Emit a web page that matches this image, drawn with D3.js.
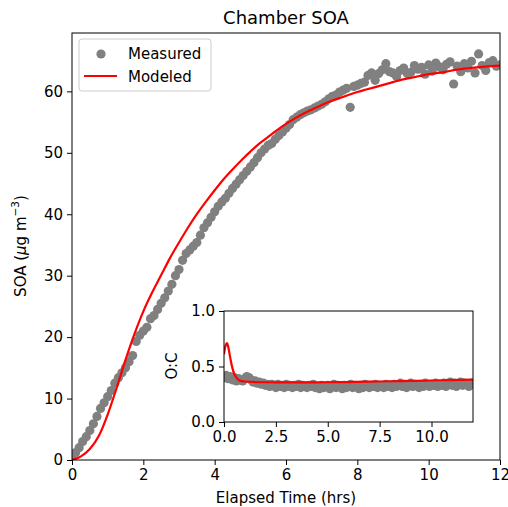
<!DOCTYPE html>
<html>
<head>
<meta charset="utf-8">
<script src="https://cdn.jsdelivr.net/npm/d3@7"></script>
<style>
  body { margin: 0; background: #fff; }
  svg { font-family: "DejaVu Sans", sans-serif; }
</style>
</head>
<body>
<svg id="chart" width="508" height="507"></svg>
<script>
// measured SOA, sampled every 0.1 hr
var measTime = [0.0,0.1,0.2,0.3,0.4,0.5,0.6,0.7,0.8,0.9,1.0,1.1,1.2,1.3,1.4,1.5,1.6,1.7,1.8,1.9,
  2.0,2.1,2.2,2.3,2.4,2.5,2.6,2.7,2.8,2.9,3.0,3.1,3.2,3.3,3.4,3.5,3.6,3.7,3.8,3.9,
  4.0,4.1,4.2,4.3,4.4,4.5,4.6,4.7,4.8,4.9,5.0,5.1,5.2,5.3,5.4,5.5,5.6,5.7,5.8,5.9,
  6.0,6.1,6.2,6.3,6.4,6.5,6.6,6.7,6.8,6.9,7.0,7.1,7.2,7.3,7.4,7.5,7.6,7.7,7.8,7.9,
  8.0,8.1,8.2,8.3,8.4,8.5,8.6,8.7,8.8,8.9,9.0,9.1,9.2,9.3,9.4,9.5,9.6,9.7,9.8,9.9,
  10.0,10.1,10.2,10.3,10.4,10.5,10.6,10.7,10.8,10.9,11.0,11.1,11.2,11.3,11.4,11.5,11.6,11.7,11.8,11.9,12.0];
var measSOA = [0.3,1.2,2.0,3.0,3.8,4.8,5.9,7.1,8.4,9.3,10.3,11.3,12.5,13.4,14.2,15.0,16.0,17.0,19.3,20.3,
  21.0,21.6,23.0,23.5,24.5,25.5,26.4,27.5,28.6,30.0,31.0,32.5,33.6,34.2,34.8,35.4,36.6,37.8,38.6,39.5,
  40.4,41.3,42.0,42.6,43.4,44.2,44.9,45.6,46.3,47.0,47.7,48.4,49.2,50.0,50.6,51.2,51.5,52.2,52.8,53.4,
  54.0,54.6,55.4,55.8,56.2,56.5,56.8,57.0,57.3,57.6,57.9,58.3,58.8,59.2,59.4,59.9,60.2,60.5,57.4,60.8,
  61.0,61.3,61.5,62.6,63.0,61.8,62.9,63.5,64.5,63.2,63.0,62.4,63.4,63.8,62.9,63.1,64.2,63.6,63.9,62.8,
  64.3,63.3,64.6,64.0,63.5,64.4,64.8,61.2,64.1,63.2,64.5,63.8,64.9,63.0,66.1,64.2,63.4,64.7,65.0,64.1,64.3];
// measured O:C on the same times
var measOC = [0.40,0.42,0.39,0.41,0.38,0.40,0.37,0.39,0.38,0.37,0.39,0.41,0.40,0.38,0.36,0.37,0.35,0.36,0.34,0.35,
  0.33,0.34,0.32,0.34,0.33,0.31,0.34,0.32,0.33,0.31,0.34,0.32,0.33,0.31,0.33,0.32,0.34,0.31,0.33,0.32,
  0.31,0.33,0.32,0.34,0.31,0.32,0.30,0.33,0.31,0.32,0.33,0.30,0.32,0.34,0.31,0.33,0.32,0.30,0.33,0.31,
  0.32,0.34,0.31,0.33,0.32,0.30,0.33,0.31,0.34,0.32,0.31,0.33,0.32,0.34,0.31,0.33,0.32,0.31,0.34,0.32,
  0.33,0.31,0.34,0.32,0.33,0.35,0.32,0.34,0.31,0.33,0.35,0.32,0.34,0.33,0.31,0.34,0.32,0.35,0.33,0.32,
  0.34,0.33,0.35,0.32,0.34,0.33,0.35,0.32,0.34,0.36,0.33,0.35,0.32,0.34,0.36,0.33,0.35,0.34,0.32,0.35,0.34];

// modeled SOA
var modTime = [0,0.25,0.5,0.75,1.0,1.25,1.5,1.75,2.0,2.25,2.5,2.75,3.0,3.25,3.5,3.75,4.0,4.25,4.5,4.75,
  5.0,5.25,5.5,5.75,6.0,6.25,6.5,6.75,7.0,7.25,7.5,7.75,8.0,8.25,8.5,8.75,9.0,9.25,9.5,9.75,
  10.0,10.25,10.5,10.75,11.0,11.25,11.5,11.75,12.0];
var modSOA = [0,0.6,1.8,3.9,7.4,11.7,16.3,20.5,24.2,27.3,30.1,32.9,35.4,37.8,40.0,42.0,43.9,45.7,47.3,48.8,
  50.2,51.5,52.6,53.7,54.7,55.6,56.4,57.1,57.8,58.4,58.9,59.4,59.9,60.3,60.7,61.1,61.5,61.9,62.2,62.5,
  62.8,63.0,63.2,63.5,63.7,63.85,64.0,64.1,64.2];
// modeled O:C
var modOCTime = [0,0.05,0.1,0.15,0.2,0.3,0.4,0.5,0.6,0.7,0.8,1.0,1.5,2,3,4,5,6,7,8,9,10,11,12];
var modOC = [0.61,0.67,0.70,0.71,0.68,0.58,0.49,0.43,0.40,0.38,0.37,0.365,0.36,0.358,0.357,0.357,0.358,0.36,0.363,0.367,0.37,0.374,0.378,0.382];

var xTicks = [0,2,4,6,8,10,12];
var yTicks = [0,10,20,30,40,50,60];
var insetXTicks = [0,2.5,5,7.5,10];
var insetYTicks = [0,0.5,1.0];

var svg = d3.select("#chart");
var grey = "#808080";
var fs = 15;

//main axes
var x = d3.scaleLinear().domain([0,12]).range([72,500]);
var y = d3.scaleLinear().domain([0,69.5]).range([460,33]);

svg.append("clipPath").attr("id","mainClip")
  .append("rect").attr("x",72).attr("y",33).attr("width",428).attr("height",427);

var plot = svg.append("g").attr("clip-path","url(#mainClip)");
plot.selectAll("circle").data(measTime).enter().append("circle")
  .attr("cx",function(d){return x(d);})
  .attr("cy",function(d,i){return y(measSOA[i]);})
  .attr("r",4.6).attr("fill",grey);

var line = d3.line().x(function(d){return x(d[0]);}).y(function(d){return y(d[1]);}).curve(d3.curveMonotoneX);
plot.append("path").datum(d3.zip(modTime,modSOA)).attr("d",line)
  .attr("fill","none").attr("stroke","red").attr("stroke-width",2.2);

var xAxis = svg.append("g").attr("transform","translate(0,460)")
  .call(d3.axisBottom(x).tickValues(xTicks).tickSize(5).tickPadding(4).tickFormat(d3.format("d")));
var yAxis = svg.append("g").attr("transform","translate(72,0)")
  .call(d3.axisLeft(y).tickValues(yTicks).tickSize(5).tickPadding(4).tickFormat(d3.format("d")));
[xAxis,yAxis].forEach(function(a){
  a.select(".domain").remove();
  a.selectAll("text").attr("font-size",fs).attr("fill","#000").attr("font-family","DejaVu Sans");
  a.selectAll("line").attr("stroke","#000");
});
svg.append("rect").attr("x",72).attr("y",33).attr("width",428).attr("height",427)
  .attr("fill","none").attr("stroke","#000").attr("stroke-width",1);

svg.append("text").attr("x",286).attr("y",24).attr("text-anchor","middle")
  .attr("font-size",18).text("Chamber SOA");
svg.append("text").attr("x",286).attr("y",503).attr("text-anchor","middle")
  .attr("font-size",fs).text("Elapsed Time (hrs)");
var yl = svg.append("text").attr("transform","translate(26,246) rotate(-90)")
  .attr("text-anchor","middle").attr("font-size",fs);
yl.append("tspan").text("SOA (");
yl.append("tspan").attr("font-style","italic").text("\u03bc");
yl.append("tspan").text("g m");
yl.append("tspan").attr("dy",-7).attr("font-size",10.5).text("\u22123");
yl.append("tspan").attr("dy",7).text(")");

//legend
var leg = svg.append("g");
leg.append("rect").attr("x",79).attr("y",39).attr("width",132).attr("height",52).attr("rx",3)
  .attr("fill","#fff").attr("fill-opacity",0.8).attr("stroke","#ccc");
leg.append("circle").attr("cx",101).attr("cy",54).attr("r",4.6).attr("fill",grey);
leg.append("text").attr("x",128).attr("y",59).attr("font-size",fs).text("Measured");
leg.append("line").attr("x1",84).attr("x2",117).attr("y1",76).attr("y2",76)
  .attr("stroke","red").attr("stroke-width",2.2);
leg.append("text").attr("x",128).attr("y",81.5).attr("font-size",fs).text("Modeled");

//inset axes
var ix = d3.scaleLinear().domain([0,12]).range([224,473]);
var iy = d3.scaleLinear().domain([0,1]).range([422,311]);
svg.append("rect").attr("x",224).attr("y",311).attr("width",249).attr("height",111).attr("fill","#fff");
svg.append("clipPath").attr("id","insetClip")
  .append("rect").attr("x",224).attr("y",311).attr("width",249).attr("height",111);
var inset = svg.append("g").attr("clip-path","url(#insetClip)");
inset.selectAll("circle").data(measTime).enter().append("circle")
  .attr("cx",function(d){return ix(d);})
  .attr("cy",function(d,i){return iy(measOC[i]);})
  .attr("r",4.6).attr("fill",grey);
var iline = d3.line().x(function(d){return ix(d[0]);}).y(function(d){return iy(d[1]);}).curve(d3.curveMonotoneX);
inset.append("path").datum(d3.zip(modOCTime,modOC)).attr("d",iline)
  .attr("fill","none").attr("stroke","red").attr("stroke-width",2.2);

var ixAxis = svg.append("g").attr("transform","translate(0,422)")
  .call(d3.axisBottom(ix).tickValues(insetXTicks).tickSize(5).tickPadding(4).tickFormat(d3.format(".1f")));
var iyAxis = svg.append("g").attr("transform","translate(224,0)")
  .call(d3.axisLeft(iy).tickValues(insetYTicks).tickSize(5).tickPadding(4).tickFormat(d3.format(".1f")));
[ixAxis,iyAxis].forEach(function(a){
  a.select(".domain").remove();
  a.selectAll("text").attr("font-size",fs).attr("fill","#000").attr("font-family","DejaVu Sans");
  a.selectAll("line").attr("stroke","#000");
});
svg.append("rect").attr("x",224).attr("y",311).attr("width",249).attr("height",111)
  .attr("fill","none").attr("stroke","#000").attr("stroke-width",1);
svg.append("text").attr("transform","translate(177,366) rotate(-90)")
  .attr("text-anchor","middle").attr("font-size",fs).text("O:C");
</script>
</body>
</html>
